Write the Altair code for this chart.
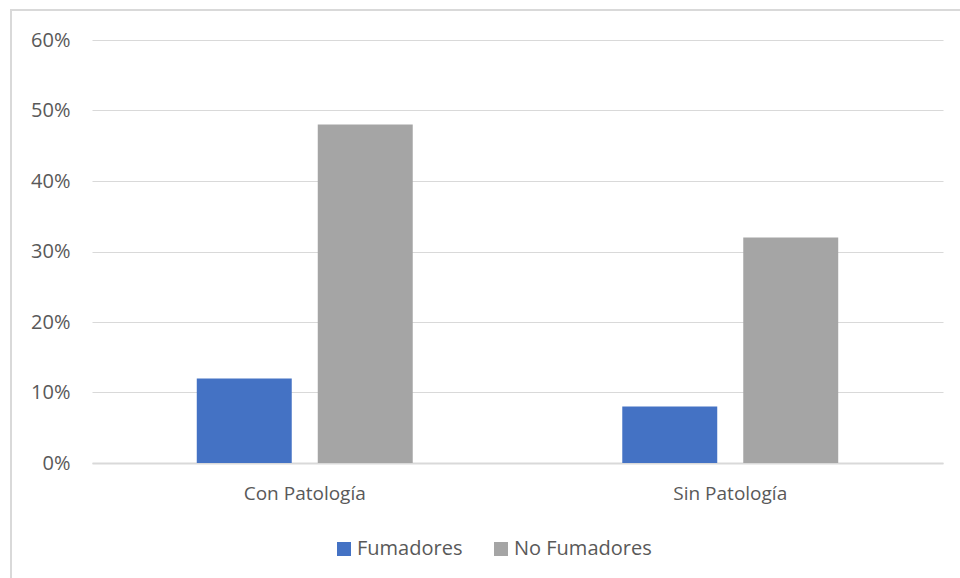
import altair as alt
import pandas as pd

# Grouped bar chart: share of smokers / non-smokers with and without pathology
categories = ["Con Patología", "Sin Patología"]
series = ["Fumadores", "No Fumadores"]
fumadores = [0.12, 0.08]
no_fumadores = [0.48, 0.32]
colors = ["#4472C4", "#A5A5A5"]

rows = []
for i, cat in enumerate(categories):
    rows.append({"grupo": cat, "serie": series[0], "valor": fumadores[i]})
    rows.append({"grupo": cat, "serie": series[1], "valor": no_fumadores[i]})
df = pd.DataFrame(rows)

FONT = "Open Sans"
TEXT = "#595959"
GRID = "#D9D9D9"

bars = alt.Chart(df).mark_bar().encode(
    x=alt.X(
        "grupo:N",
        sort=categories,
        title=None,
        scale=alt.Scale(paddingInner=0, paddingOuter=0),
        axis=alt.Axis(
            labelAngle=0,
            labelFontSize=19,
            labelFont=FONT,
            labelColor=TEXT,
            labelPadding=21,
            ticks=False,
            domainColor=GRID,
            domainWidth=2,
            grid=False,
        ),
    ),
    xOffset=alt.XOffset(
        "serie:N",
        sort=series,
        scale=alt.Scale(paddingInner=0.215, paddingOuter=0.866),
    ),
    y=alt.Y(
        "valor:Q",
        title=None,
        scale=alt.Scale(domain=[0, 0.6], nice=False),
        axis=alt.Axis(
            format=".0%",
            values=[0, 0.1, 0.2, 0.3, 0.4, 0.5, 0.6],
            labelFontSize=20,
            labelFont=FONT,
            labelColor=TEXT,
            labelPadding=22,
            ticks=False,
            domain=False,
            gridColor=GRID,
            gridWidth=1.2,
        ),
    ),
    color=alt.Color(
        "serie:N",
        sort=series,
        scale=alt.Scale(domain=series, range=colors),
        legend=alt.Legend(
            title=None,
            orient="none",
            direction="horizontal",
            legendX=242,
            legendY=499,
            symbolType="square",
            symbolSize=196,
            symbolStrokeWidth=0,
            labelFont=FONT,
            labelFontSize=20,
            labelColor=TEXT,
            labelOffset=3,
            columnPadding=28,
        ),
    ),
)

# Thin outer frame around the whole chart
frame = alt.Chart(pd.DataFrame({"f": [0]})).mark_rect(
    fill=None, stroke=GRID, strokeWidth=2
).encode(
    x=alt.value(-81),
    y=alt.value(-30),
    x2=alt.value(900),
    y2=alt.value(560),
)

chart = alt.layer(frame, bars).properties(
    width=851,
    height=423,
    autosize=alt.AutoSizeParams(type="none"),
    padding={"left": 92, "top": 40, "right": 17, "bottom": 115},
    background="white",
).configure_view(stroke=None)

chart.save("out.html", embed_options={"renderer": "svg", "actions": False})
